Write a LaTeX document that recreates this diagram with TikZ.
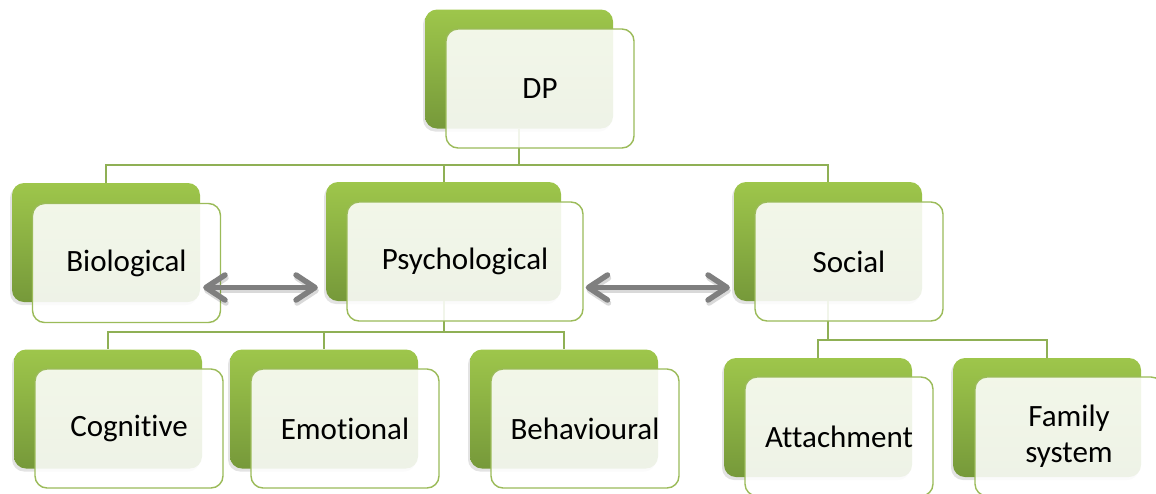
\documentclass[tikz,border=0pt]{standalone}
\usepackage{fontspec}
\setmainfont{Carlito}[Ligatures={NoCommon,NoRare}]
\usetikzlibrary{arrows.meta,shadows,calc}
\definecolor{leafhi}{HTML}{9EC64B}
\definecolor{leaflo}{HTML}{76993A}
\definecolor{rim}{HTML}{9BBB59}
\definecolor{wirecol}{HTML}{8FB055}
\definecolor{arrowgray}{HTML}{7F7F7F}

\begin{document}
\begin{tikzpicture}[x=1pt,y=-1pt,
  back/.style={rectangle, rounded corners=12pt, inner sep=0pt, draw=none,
    top color=leafhi, bottom color=leaflo,
    minimum width=188pt, minimum height=119pt,
    drop shadow={shadow xshift=-2pt, shadow yshift=-3pt, opacity=0.22}},
  front/.style={rectangle, rounded corners=12pt, inner sep=0pt, draw=rim,
    line width=1.4pt, fill=white, fill opacity=0.88, text opacity=1,
    minimum width=188pt, minimum height=119pt, align=center,
    font=\fontsize{31}{36}\selectfont},
  wire/.style={draw=wirecol, line width=2pt},
  twoway/.style={draw=arrowgray, line width=5.5pt,
    {Straight Barb[length=19pt,width=25pt,round]}-{Straight Barb[length=19pt,width=25pt,round]}},
  twowayshade/.style={twoway, draw=black, draw opacity=0.15},
]
\useasboundingbox (0,0) rectangle (1156,493);

% green backing cards
\node[back] (dp)  at (519,69) {};
\node[back] (bio) at (106,242.5) {};
\node[back, minimum width=235pt] (psy) at (443.5,241.5) {};
\node[back] (soc) at (828,241.5) {};
\node[back] (cog) at (108,409) {};
\node[back] (emo) at (324,409) {};
\node[back] (beh) at (564,409) {};
\node[back] (att) at (818,417.5) {};
\node[back] (fam) at (1047,417.5) {};

% tree connectors
\draw[wire] (dp.south) -- (dp.south |- 0,165) -| (bio.north);
\draw[wire] (dp.south) -- (dp.south |- 0,165) -| (psy.north);
\draw[wire] (dp.south) -- (dp.south |- 0,165) -| (soc.north);
\draw[wire] (psy.south) -- (psy.south |- 0,332) -| (cog.north);
\draw[wire] (psy.south) -- (psy.south |- 0,332) -| (emo.north);
\draw[wire] (psy.south) -- (psy.south |- 0,332) -| (beh.north);
\draw[wire] (soc.south) -- (soc.south |- 0,340) -| (att.north);
\draw[wire] (soc.south) -- (soc.south |- 0,340) -| (fam.north);

% labelled front cards
\node[front] (dpf)  at (540,88.5) {DP};
\node[front] (biof) at (126.5,263) {Biological};
\node[front, minimum width=236pt] (psyf) at (465,261.5) {Psychological};
\node[front] (socf) at (849,261.5) {Social};
\node[front] (cogf) at (129,428.5) {Cognitive};
\node[front] (emof) at (345,428.5) {Emotional};
\node[front] (behf) at (585,428.5) {Behavioural};
\node[front] (attf) at (839,436.5) {Attachment};
\node[front] (famf) at (1069,436.5) {Family\\system};

% two-way arrows between the three domains
\coordinate (a1) at ([xshift=3pt,yshift=-45pt]bio.east);
\coordinate (a1e) at ($(a1 -| psy.west)+(-8,0)$);
\coordinate (a2) at ($(psyf.east |- a1)+(2,0)$);
\coordinate (a2e) at ($(a1 -| soc.west)+(-4,0)$);
\draw[twowayshade, transform canvas={xshift=1pt,yshift=-3pt}] (a1) -- (a1e);
\draw[twowayshade, transform canvas={xshift=1pt,yshift=-3pt}] (a2) -- (a2e);
\draw[twoway] (a1) -- (a1e);
\draw[twoway] (a2) -- (a2e);
\end{tikzpicture}
\end{document}
